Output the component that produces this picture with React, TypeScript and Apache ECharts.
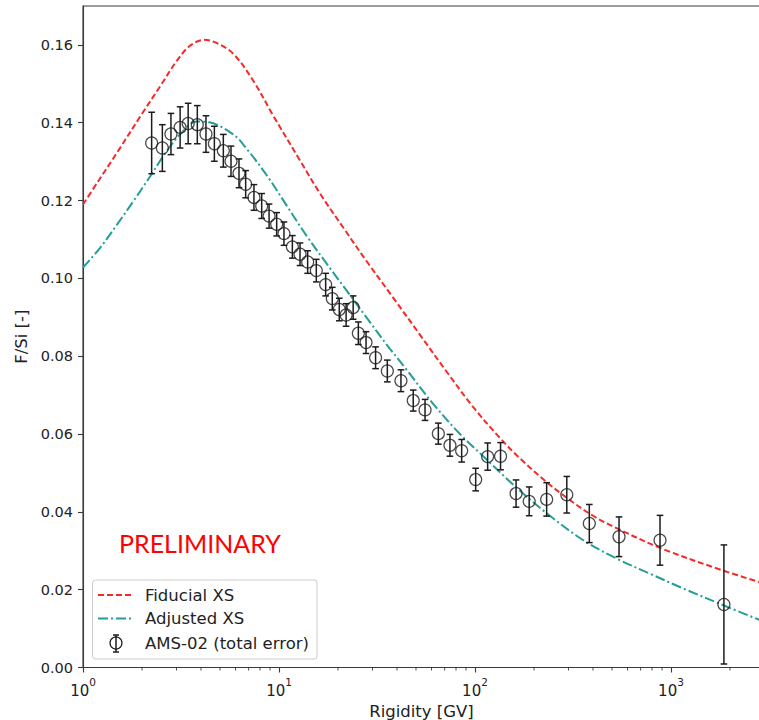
import React, { useEffect, useRef } from 'react';
import * as echarts from 'echarts';

// AMS-02 F/Si ratio vs rigidity
const rigidity = [2.24, 2.54, 2.81, 3.13, 3.44, 3.83, 4.24, 4.68, 5.2, 5.69, 6.25, 6.76, 7.45, 8.16, 8.9, 9.73, 10.6, 11.7, 12.8, 14.0, 15.5, 17.3, 18.7, 20.3, 22.0, 23.9, 25.4, 27.8, 31.1, 35.7, 41.9, 48.4, 55.6, 65.0, 74.5, 85.5, 100.8, 116, 135, 162, 189, 232, 294, 383, 543, 879, 1862];
const fsi = [0.1348, 0.1335, 0.1371, 0.1388, 0.1398, 0.1395, 0.1371, 0.1346, 0.1328, 0.1301, 0.127, 0.1242, 0.1208, 0.1186, 0.116, 0.1139, 0.1115, 0.1081, 0.1062, 0.1042, 0.102, 0.0984, 0.0948, 0.092, 0.0906, 0.0925, 0.0859, 0.0835, 0.0796, 0.0762, 0.0737, 0.0686, 0.0662, 0.0601, 0.0571, 0.0557, 0.0483, 0.0542, 0.0543, 0.0447, 0.0427, 0.0432, 0.0444, 0.037, 0.0336, 0.0327, 0.0162];
const fsiErr = [0.0079, 0.006, 0.0053, 0.0053, 0.0052, 0.0049, 0.0047, 0.0045, 0.0042, 0.0039, 0.0037, 0.0035, 0.0033, 0.0032, 0.0031, 0.003, 0.003, 0.0029, 0.0029, 0.0029, 0.0029, 0.0029, 0.0029, 0.0029, 0.0029, 0.003, 0.0029, 0.0028, 0.0028, 0.0028, 0.0028, 0.0027, 0.0027, 0.0027, 0.0028, 0.0029, 0.0029, 0.0035, 0.0035, 0.0035, 0.0037, 0.0043, 0.0047, 0.0049, 0.0051, 0.0064, 0.0153];

// Model curves
const fiducialR = [1.0, 1.2, 1.5, 2.0, 2.5, 3.0, 3.5, 4.15, 4.8, 5.85, 7.39, 9.35, 12.8, 16.2, 21.3, 28.0, 38.3, 52.4, 71.7, 98, 134, 170, 230, 294, 400, 528, 914, 1849, 2845];
const fiducialY = [0.119, 0.1251, 0.1325, 0.1423, 0.1497, 0.1558, 0.1597, 0.1613, 0.1605, 0.1577, 0.1508, 0.1418, 0.1303, 0.1218, 0.113, 0.1044, 0.095, 0.0855, 0.076, 0.0669, 0.059, 0.0537, 0.0478, 0.0436, 0.039, 0.0358, 0.0304, 0.0249, 0.0219];
const adjustedR = [1.0, 1.22, 1.5, 1.81, 2.2, 2.6, 3.13, 3.8, 4.4, 5.85, 6.84, 8.66, 10.95, 13.8, 17.5, 22.1, 28.0, 35.4, 44.8, 61.3, 83.8, 108, 163, 241, 357, 528, 782, 1156, 1849, 2845];
const adjustedY = [0.1028, 0.1078, 0.114, 0.1199, 0.1262, 0.1318, 0.137, 0.1403, 0.1401, 0.137, 0.1333, 0.1265, 0.1187, 0.111, 0.1038, 0.0969, 0.0899, 0.083, 0.0765, 0.0677, 0.06, 0.0547, 0.0462, 0.039, 0.0327, 0.028, 0.0241, 0.0203, 0.016, 0.0122];

const xMin = 1;
const xMax = 2845;
const yMin = 0;
const yMax = 0.17;
const yStep = 0.02;

const FONT = 'DejaVu Sans';
const RED = '#f42a2a';
const TEAL = '#249e97';
const INK = '#222222';
const SPINE = '#3a3a3a';
const MARK = '#1c1c1c';

export default function App() {
  const ref = useRef<HTMLDivElement>(null);

  useEffect(() => {
    const el = ref.current;
    if (!el) return;
    const chart = echarts.init(el, null, { renderer: 'svg' });

    const minorTicks: number[] = [];
    for (let k = 0; k < 4; k++) {
      for (let m = 2; m <= 9; m++) {
        const v = m * Math.pow(10, k);
        if (v < xMax) minorTicks.push(v);
      }
    }

    const option: any = {
      animation: false,
      backgroundColor: '#ffffff',
      grid: {
        left: 83,
        top: 6,
        right: -1,
        bottom: 52.5,
        show: true,
        borderColor: SPINE,
        borderWidth: 1.1,
        containLabel: false,
        outerBoundsMode: 'none',
      },
      xAxis: {
        type: 'log',
        logBase: 10,
        min: xMin,
        max: xMax,
        name: 'Rigidity [GV]',
        nameLocation: 'middle',
        nameGap: 31,
        nameTextStyle: { fontFamily: FONT, fontSize: 16.5, color: INK },
        axisLine: { show: true, onZero: false, lineStyle: { color: SPINE, width: 1.1 } },
        axisTick: { show: true, inside: false, length: 5, lineStyle: { color: SPINE, width: 1.1 } },
        splitLine: { show: false },
        minorTick: { show: false },
        axisLabel: {
          margin: 9,
          showMaxLabel: false,
          showMinLabel: true,
          formatter: (v: number) => `{b|10}{s|${Math.round(Math.log10(v))}}`,
          rich: {
            b: { fontFamily: FONT, fontSize: 15, color: INK, lineHeight: 22, verticalAlign: 'bottom' },
            s: { fontFamily: FONT, fontSize: 10.5, color: INK, lineHeight: 14, verticalAlign: 'top' },
          },
        },
      },
      yAxis: {
        type: 'value',
        min: yMin,
        max: yMax,
        interval: yStep,
        name: 'F/Si [-]',
        nameLocation: 'middle',
        nameGap: 50,
        nameTextStyle: { fontFamily: FONT, fontSize: 16.5, color: INK },
        axisLine: { show: true, lineStyle: { color: SPINE, width: 1.1 } },
        axisTick: { show: true, inside: false, length: 5, lineStyle: { color: SPINE, width: 1.1 } },
        splitLine: { show: false },
        axisLabel: {
          margin: 10,
          showMaxLabel: false,
          fontFamily: FONT,
          fontSize: 14.5,
          color: INK,
          formatter: (v: number) => v.toFixed(2),
        },
      },
      series: [
        {
          name: 'Fiducial XS',
          type: 'line',
          data: fiducialR.map((r, i) => [r, fiducialY[i]]),
          smooth: 0.35,
          symbol: 'none',
          lineStyle: { color: RED, width: 2, type: [6, 3] },
          z: 2,
        },
        {
          name: 'Adjusted XS',
          type: 'line',
          data: adjustedR.map((r, i) => [r, adjustedY[i]]),
          smooth: 0.35,
          symbol: 'none',
          lineStyle: { color: TEAL, width: 2, type: [10, 3, 2, 3] },
          z: 2,
        },
        {
          name: 'AMS-02 errors',
          type: 'custom',
          data: rigidity.map((r, i) => [r, fsi[i], fsiErr[i]]),
          encode: { x: 0, y: 1 },
          clip: false,
          silent: true,
          z: 3,
          renderItem: (params: any, api: any) => {
            const x = api.value(0);
            const y = api.value(1);
            const e = api.value(2);
            const top = api.coord([x, y + e]);
            const bot = api.coord([x, y - e]);
            const cw = 3.3;
            const style = { stroke: MARK, lineWidth: 1.5 };
            return {
              type: 'group',
              children: [
                { type: 'line', shape: { x1: top[0], y1: top[1], x2: bot[0], y2: bot[1] }, style },
                { type: 'line', shape: { x1: top[0] - cw, y1: top[1], x2: top[0] + cw, y2: top[1] }, style },
                { type: 'line', shape: { x1: bot[0] - cw, y1: bot[1], x2: bot[0] + cw, y2: bot[1] }, style },
              ],
            };
          },
        },
        {
          name: 'AMS-02 (total error)',
          type: 'scatter',
          data: rigidity.map((r, i) => [r, fsi[i]]),
          symbol: 'circle',
          symbolSize: 12,
          itemStyle: { color: 'rgba(0,0,0,0)', borderColor: MARK, borderWidth: 1.2 },
          z: 4,
        },
        {
          name: 'minor ticks',
          type: 'custom',
          data: minorTicks.map((v) => [v, yMin]),
          encode: { x: 0, y: 1 },
          clip: false,
          silent: true,
          renderItem: (params: any, api: any) => {
            const p = api.coord([api.value(0), yMin]);
            return {
              type: 'line',
              shape: { x1: p[0], y1: p[1], x2: p[0], y2: p[1] + 3 },
              style: { stroke: SPINE, lineWidth: 0.9 },
            };
          },
        },
      ],
      graphic: [
        {
          type: 'text',
          x: 119,
          y: 543,
          z: 50,
          style: { text: 'PRELIMINARY', fill: '#ff0000', fontFamily: 'Lato', fontSize: 25, verticalAlign: 'middle', align: 'left' },
        },
        {
          type: 'rect',
          z: 100,
          shape: { x: 92.5, y: 580, width: 224.5, height: 79, r: 3 },
          style: { fill: 'rgba(255,255,255,0.8)', stroke: '#cccccc', lineWidth: 1 },
        },
        {
          type: 'line',
          z: 101,
          shape: { x1: 98, y1: 595, x2: 131, y2: 595 },
          style: { stroke: RED, lineWidth: 2, lineDash: [6, 3] },
        },
        {
          type: 'line',
          z: 101,
          shape: { x1: 98, y1: 618.5, x2: 131, y2: 618.5 },
          style: { stroke: TEAL, lineWidth: 2, lineDash: [10, 3, 2, 3] },
        },
        {
          type: 'line',
          z: 101,
          shape: { x1: 116, y1: 635, x2: 116, y2: 652 },
          style: { stroke: MARK, lineWidth: 1.5 },
        },
        {
          type: 'line',
          z: 101,
          shape: { x1: 113, y1: 635, x2: 119, y2: 635 },
          style: { stroke: MARK, lineWidth: 1.5 },
        },
        {
          type: 'line',
          z: 101,
          shape: { x1: 113, y1: 652, x2: 119, y2: 652 },
          style: { stroke: MARK, lineWidth: 1.5 },
        },
        {
          type: 'circle',
          z: 101,
          shape: { cx: 116, cy: 643, r: 6 },
          style: { fill: 'none', stroke: MARK, lineWidth: 1.2 },
        },
        {
          type: 'text',
          z: 101,
          x: 145,
          y: 595,
          style: { text: 'Fiducial XS', fill: INK, fontFamily: FONT, fontSize: 16.5, verticalAlign: 'middle', align: 'left' },
        },
        {
          type: 'text',
          z: 101,
          x: 145,
          y: 618.5,
          style: { text: 'Adjusted XS', fill: INK, fontFamily: FONT, fontSize: 16.5, verticalAlign: 'middle', align: 'left' },
        },
        {
          type: 'text',
          z: 101,
          x: 145,
          y: 643,
          style: { text: 'AMS-02 (total error)', fill: INK, fontFamily: FONT, fontSize: 16.5, verticalAlign: 'middle', align: 'left' },
        },
      ],
    };

    chart.setOption(option);
    return () => chart.dispose();
  }, []);

  return <div ref={ref} style={{ position: 'fixed', left: 0, top: 0, width: 759, height: 720 }} />;
}
